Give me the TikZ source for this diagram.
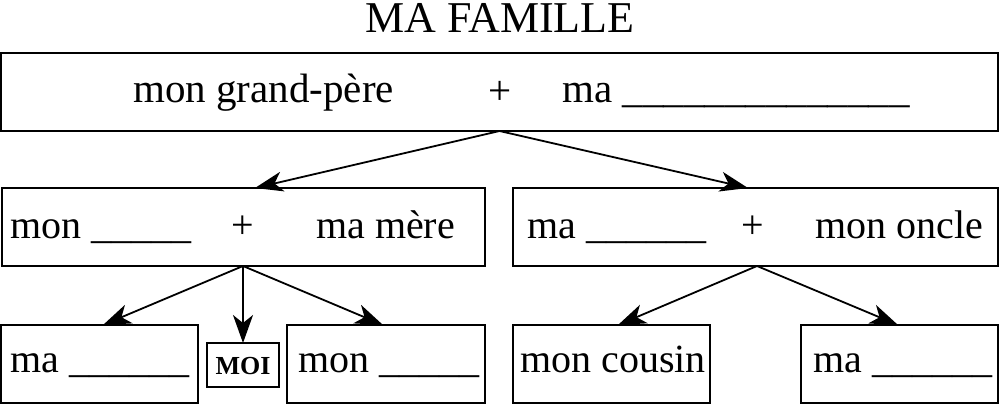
\documentclass[tikz,border=0pt]{standalone}
\usepackage{fontspec}
\setmainfont{Liberation Serif}
\usetikzlibrary{arrows.meta}
\begin{document}
\begin{tikzpicture}[x=1pt,y=-1pt,
  box/.style={draw, line width=1.7pt, minimum height=78pt, inner sep=0pt, outer sep=0pt},
  txt/.style={anchor=base west, inner sep=0pt, font=\fontsize{40}{48}\selectfont},
  ctxt/.style={anchor=base, inner sep=0pt, font=\fontsize{40}{48}\selectfont},
  arr/.style={line width=1.8pt, -{Stealth[length=28pt,width=20pt,inset=8pt]}}]
\useasboundingbox (0,0) rectangle (1000,404);
% title
\node[anchor=base, inner sep=0pt, font=\fontsize{44}{50}\selectfont] (title) at (500,33) {MA FAMILLE};
% boxes
\node[box, minimum width=997pt] (top) at (499.5,92) {};
\node[box, minimum width=483pt] (ml) at (243.5,227) {};
\node[box, minimum width=485pt] (mr) at (755.5,227) {};
\node[box, minimum width=197pt] (bl) at (99.5,364) {};
\node[box, minimum width=72pt, minimum height=44pt] (moi) at (243,365) {};
\node[box, minimum width=198pt] (bm) at (386,364) {};
\node[box, minimum width=197pt] (bc) at (611.5,364) {};
\node[box, minimum width=197pt] (br) at (899.5,364) {};
% texts top
\node[txt, font=\fontsize{41}{48}\selectfont] (t1) at (133,102) {mon grand-père};
\node[ctxt, font=\fontsize{41}{48}\selectfont] (t2) at (500,104) {+};
\node[txt, font=\fontsize{41}{48}\selectfont] (t3) at (562,102) {ma \_\_\_\_\_\_\_\_\_\_\_\_\_\_};
% middle left
\node[txt] (m1) at (10,238) {mon \_\_\_\_\_};
\node[ctxt] (m2) at (243,238) {+};
\node[txt] (m3) at (316,238) {ma mère};
% middle right
\node[txt] (m4) at (527,238) {ma \_\_\_\_\_\_};
\node[ctxt] (m5) at (753,238) {+};
\node[txt] (m6) at (815,238) {mon oncle};
% bottom
\node[txt] (b1) at (10,372) {ma \_\_\_\_\_\_};
\node[anchor=center, inner sep=0pt, font=\fontsize{26}{30}\selectfont\bfseries] (b2) at (243,366) {MOI};
\node[txt] (b3) at (298,372) {mon \_\_\_\_\_};
\node[txt] (b4) at (520,372) {mon cousin};
\node[txt] (b5) at (813,372) {ma \_\_\_\_\_\_};
% arrow targets
\coordinate (c1) at (255,188);
\coordinate (c2) at (748,188);
\coordinate (c3) at (103,325);
\coordinate (c4) at (383,325);
\coordinate (c5) at (618,325);
\coordinate (c6) at (898,325);
\coordinate (s1) at (243,266);
\coordinate (s2) at (757,266);
\draw[arr] (top.south) -- (c1);
\draw[arr] (top.south) -- (c2);
\draw[arr] (s1) -- (c3);
\draw[arr] (s1) -- (moi.north);
\draw[arr] (s1) -- (c4);
\draw[arr] (s2) -- (c5);
\draw[arr] (s2) -- (c6);
\end{tikzpicture}
\end{document}
